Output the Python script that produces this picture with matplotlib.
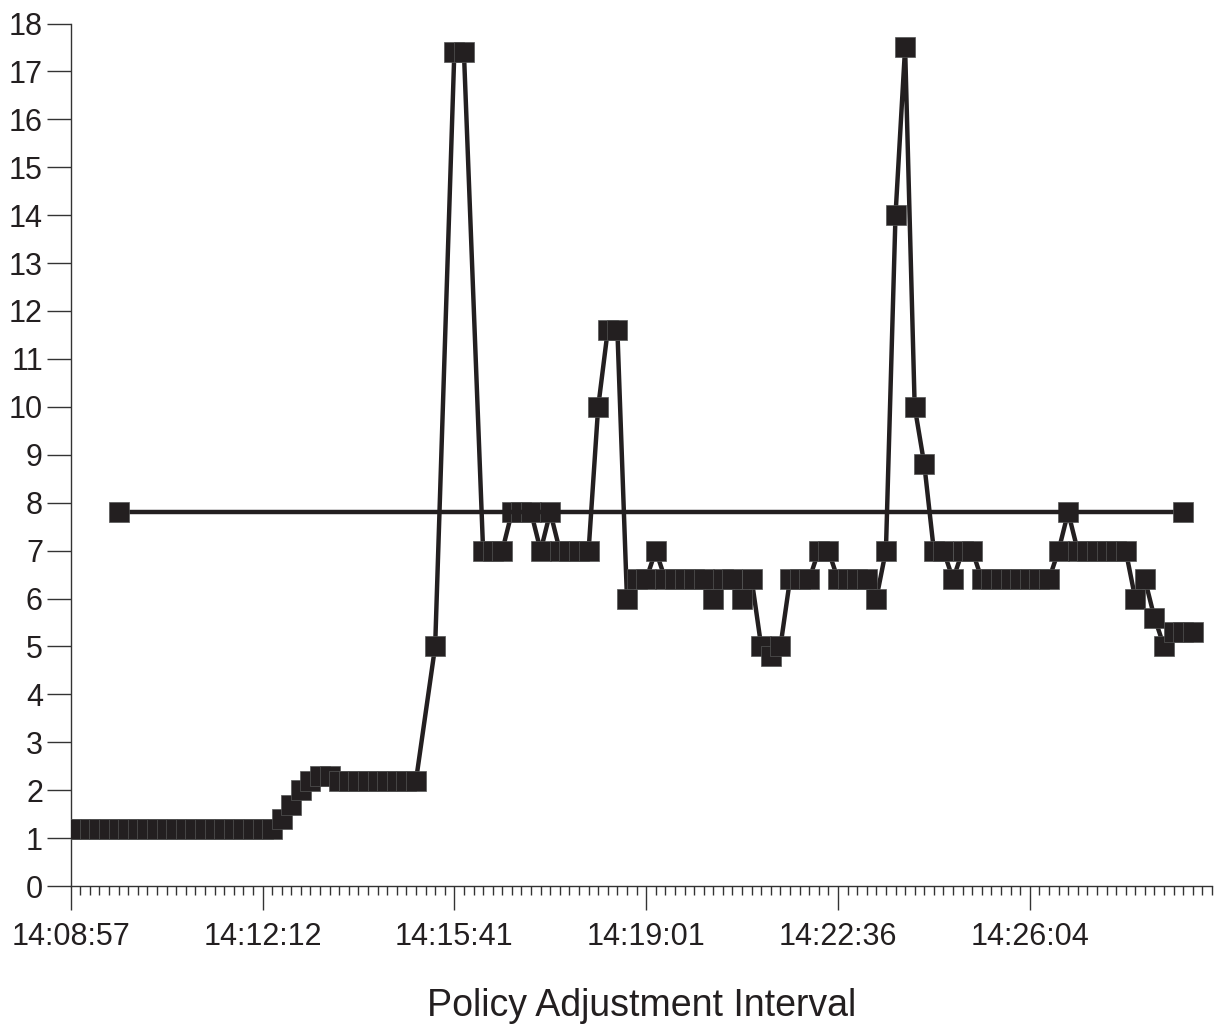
import numpy as np
import matplotlib
matplotlib.use("Agg")
import matplotlib.pyplot as plt
from matplotlib.ticker import MultipleLocator, FixedLocator, FixedFormatter

plt.rcParams['font.family'] = ['Liberation Sans', 'DejaVu Sans']

nan = np.nan
# Policy values per adjustment interval (index = interval number); nan = no sample
values = ([1.2] * 22 +
          [1.4, 1.7, 2.0, 2.2, 2.3, 2.3] +
          [2.2] * 9 +
          [nan, 5.0, nan, 17.4, 17.4, nan] +
          [7.0, 7.0, 7.0, 7.8, 7.8, 7.8, 7.0, 7.8, 7.0, 7.0, 7.0, 7.0] +
          [10.0, 11.6, 11.6, 6.0, 6.4, 6.4, 7.0] +
          [6.4] * 5 +
          [6.0, 6.4, 6.4, 6.0, 6.4, 5.0, 4.8, 5.0, 6.4, 6.4, 6.4, 7.0, 7.0] +
          [6.4] * 4 +
          [6.0, 7.0, 14.0, 17.5, 10.0, 8.8, 7.0, 7.0, 6.4, 7.0, 7.0] +
          [6.4] * 8 +
          [7.0, 7.8] +
          [7.0] * 6 +
          [6.0, 6.4, 5.6, 5.0, 5.3, 5.3, 5.3])

# Reference level series (two end points)
ref_idx = [5, 116]
ref_vals = [7.8, 7.8]

tick_idx = [0, 20, 40, 60, 80, 100]
tick_labels = ["14:08:57", "14:12:12", "14:15:41", "14:19:01", "14:22:36", "14:26:04"]
n_slots = 119

xlabel = "Policy Adjustment Interval"

y = np.array(values, dtype=float)
x = np.arange(len(y))
ok = ~np.isnan(y)

col = "#231f20"
fig = plt.figure(figsize=(12.15, 10.25), dpi=100)
ax = fig.add_axes([70.7 / 1215, 1 - 886 / 1025, (1212 - 70.7) / 1215, (886 - 23.5) / 1025])

ax.plot(x[ok], y[ok], color=col, lw=3.2, marker='s', ms=13.8,
        mfc=col, mec='#555555', mew=0.5, zorder=3)
ax.plot(ref_idx, ref_vals, color=col, lw=3.2, marker='s', ms=13.8,
        mfc=col, mec='#555555', mew=0.5, zorder=3)

ax.set_xlim(0, n_slots)
ax.set_ylim(0, 18)
ax.yaxis.set_major_locator(MultipleLocator(1))
ax.xaxis.set_major_locator(FixedLocator(tick_idx))
ax.xaxis.set_major_formatter(FixedFormatter(tick_labels))
ax.xaxis.set_minor_locator(MultipleLocator(1))

for s in ['top', 'right']:
    ax.spines[s].set_visible(False)
for s in ['left', 'bottom']:
    ax.spines[s].set_color('#333333')
    ax.spines[s].set_linewidth(1.0)

ax.tick_params(axis='y', which='major', direction='out', length=17, width=1.0,
               color='#333333', labelsize=22, pad=3, labelcolor='#231f20')
ax.tick_params(axis='x', which='major', direction='out', length=17, width=1.0,
               color='#333333', labelsize=22, pad=9, labelcolor='#231f20')
ax.tick_params(axis='x', which='minor', direction='out', length=6.5, width=1.0,
               color='#333333')

fig.text(641.4 / 1215, 1 - 1016 / 1025, xlabel, ha='center', va='baseline',
         fontsize=27, color='#231f20')

fig.savefig("out.png", dpi=100)
